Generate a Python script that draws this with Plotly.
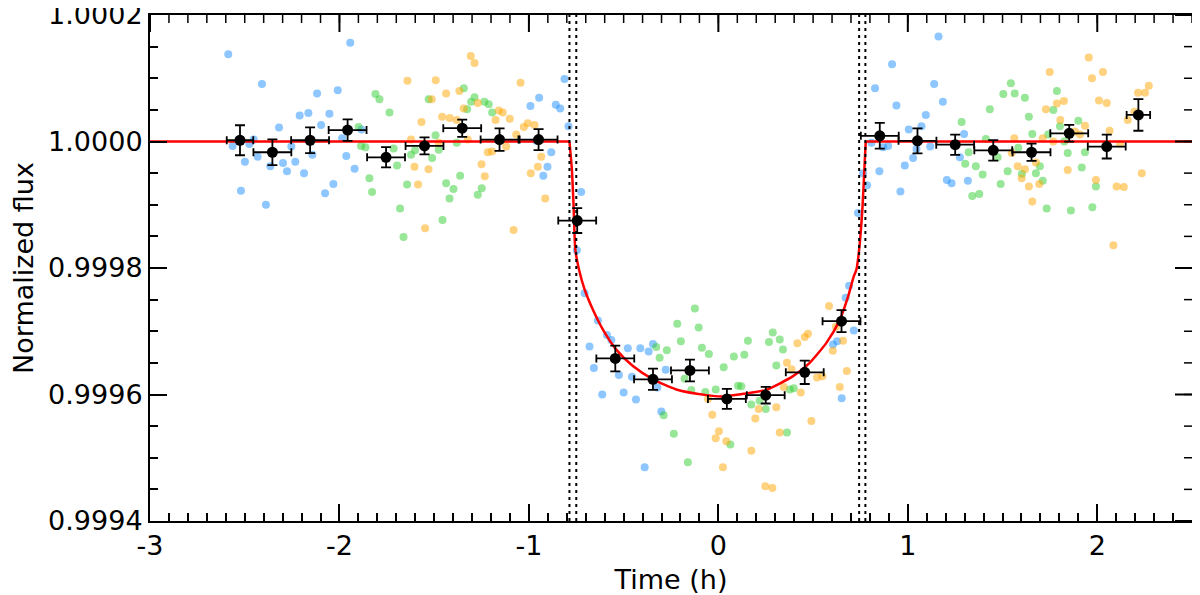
import plotly.graph_objects as go

# --- unbinned photometry, three visits (time in h, normalized flux) ---
blue_t = [-2.587, -1.943, -2.409, -2.118, -2.009, -2.210, -2.164, -2.053, -2.319, -2.097,
          -2.564, -2.476, -2.453, -2.499, -2.432, -2.365, -2.298, -2.277, -2.233, -2.254,
          -2.187, -2.143, -2.520, -2.388, -2.076, -2.032, -1.964, -1.920, -1.986, -1.884,
          -0.812, -0.946, -0.992, -0.858, -0.835, -0.791, -0.882, -0.902, -0.924, -0.961,
          -0.724, -0.747,
          -0.706, -0.636, -0.588, -0.565, -0.680, -0.657, -0.613, -0.525, -0.478, -0.456,
          -0.500, -0.435, -0.412, -0.368, -0.345, -0.278, -0.322, -0.301, -0.389,
          0.690, 0.672, 0.715, 0.627, 0.605, 0.651,
          1.162, 0.917, 0.827, 1.139, 0.940, 1.185, 1.095, 1.072, 1.005, 1.297,
          0.808, 0.870, 0.896, 1.118, 1.046, 1.028, 0.984, 1.275, 0.850, 0.764,
          0.785, 1.206, 1.231, 1.317, 0.961, 0.737]
blue_f = [1.000138, 1.000156, 1.000091, 1.000076, 1.000081, 1.000041, 1.000045, 1.000044, 1.000022, 1.000026,
          0.999993, 0.999996, 1.000003, 0.999968, 0.999976, 0.999961, 0.999966, 0.999953, 0.999968, 0.999992,
          0.999950, 0.999979, 0.999922, 0.999900, 0.999918, 0.999933, 0.999977, 0.999957, 1.000005, 1.000019,
          1.000099, 1.000069, 1.000056, 1.000058, 1.000052, 1.000024, 0.999983, 0.999960, 0.999946, 1.000001,
          0.999920, 0.999828,
          0.999760, 0.999717, 0.999694, 0.999686, 0.999676, 0.999642, 0.999600, 0.999631, 0.999673, 0.999628,
          0.999603, 0.999592, 0.999673, 0.999668, 0.999680, 0.999639, 0.999611, 0.999573, 0.999485,
          0.999772, 0.999753, 0.999701, 0.999684, 0.999679, 0.999594,
          1.000166, 1.000122, 1.000084, 1.000091, 1.000057, 1.000063, 1.000042, 1.000024, 1.000019, 1.000012,
          0.999998, 0.999991, 0.999993, 0.999992, 0.999988, 0.999974, 0.999962, 0.999975, 0.999953, 0.999950,
          0.999931, 0.999939, 0.999934, 0.999938, 0.999921, 0.999887]

green_t = [-1.899, -1.886, -1.863, -1.810, -1.789, -1.736, -1.714, -1.696, -1.754, -1.842,
           -1.828, -1.680, -1.662, -1.643, -1.622, -1.601, -1.511, -1.493, -1.476, -1.529,
           -1.344, -1.305, -1.287, -1.235, -1.212, -1.194, -1.326, -1.381, -1.363, -1.437,
           -1.398, -1.419, -1.270, -1.249, -1.456,
           -0.124, -0.217, -0.104, -0.198, -0.328, -0.272, -0.310, -0.087, -0.050, -0.178,
           -0.143, -0.069, -0.014, -0.289, -0.235, -0.161, 0.028, 0.082, 0.137, 0.156,
           0.267, 0.287, 0.324, 0.341, 0.306, 0.104, 0.121, 0.174, 0.218, 0.250,
           0.377, 0.398, 0.063, 0.362,
           1.284, 1.321, 1.303, 1.359, 1.395, 1.340, 1.377, 1.433, 1.504, 1.544,
           1.564, 1.412, 1.474, 1.527, 1.490, 1.583, 1.618, 1.787, 1.768, 1.639,
           1.657, 1.803, 1.900, 1.741, 1.826, 1.697, 1.676, 1.602, 1.712, 1.844,
           1.935, 1.918, 1.993, 1.733, 1.861, 1.974]
green_f = [1.000023, 0.999993, 0.999991, 1.000075, 1.000067, 1.000046, 0.999989, 0.999962, 0.999976, 0.999942,
           0.999920, 0.999894, 0.999849, 0.999932, 0.999979, 0.999986, 0.999974, 1.000010, 0.999987, 1.000067,
           1.000084, 1.000063, 1.000070, 1.000063, 1.000059, 1.000046, 1.000051, 0.999998, 0.999946, 0.999934,
           0.999925, 0.999910, 0.999916, 0.999926, 0.999876,
           0.999736, 0.999712, 0.999706, 0.999684, 0.999675, 0.999670, 0.999658, 0.999674, 0.999664, 0.999625,
           0.999607, 0.999604, 0.999608, 0.999567, 0.999538, 0.999493, 0.999643, 0.999660, 0.999663, 0.999685,
           0.999683, 0.999698, 0.999687, 0.999671, 0.999646, 0.999614, 0.999613, 0.999584, 0.999590, 0.999577,
           0.999608, 0.999610, 0.999521, 0.999540,
           1.000031, 0.999983, 0.999965, 0.999961, 0.999948, 0.999914, 0.999917, 1.000051, 1.000075, 1.000092,
           1.000076, 1.000004, 0.999975, 0.999953, 0.999933, 0.999990, 1.000069, 1.000080, 1.000050, 1.000039,
           1.000012, 1.000024, 1.000033, 1.000011, 1.000000, 0.999961, 0.999950, 0.999949, 0.999938, 0.999982,
           0.999983, 0.999959, 0.999929, 0.999894, 0.999891, 0.999896]

orange_t = [-1.307, -1.287, -1.641, -1.492, -1.437, -1.367, -1.513, -1.044, -1.344, -1.270,
            -1.159, -1.138, -1.176, -1.101, -1.458, -1.418, -1.381, -1.567, -1.027, -1.006,
            -0.970, -1.067, -1.622, -1.323, -1.217, -1.194, -1.120, -1.476, -1.604, -1.530,
            -1.585, -1.250, -1.233, -0.953, -0.990, -0.935, -0.914, -1.548, -1.081,
            -0.032, 0.003, -0.014, -0.055, 0.584, 0.473, 0.456, 0.417, 0.362, 0.386,
            0.521, 0.549, 0.658, 0.604, 0.678, 0.641, 0.435, 0.345, 0.491, 0.306,
            0.213, 0.195, 0.042, 0.174, 0.324, 0.024, 0.248, 0.285, 0.620,
            1.562, 1.548, 1.580, 1.955, 1.749, 2.030, 1.972, 2.272, 2.252, 2.215,
            1.824, 1.787, 1.729, 2.009, 2.050, 1.805, 1.935, 1.882, 1.909, 2.065,
            2.161, 2.196, 1.768, 1.712, 2.120, 1.676, 1.618, 1.601, 1.694, 1.639,
            1.844, 1.993, 2.102, 2.140, 2.235, 1.657, 2.085]
orange_f = [1.000135, 1.000124, 1.000096, 1.000097, 1.000076, 1.000080, 1.000067, 1.000093, 1.000052, 1.000061,
            1.000049, 1.000046, 1.000034, 1.000036, 1.000039, 1.000037, 1.000034, 1.000031, 1.000023, 1.000029,
            1.000026, 1.000011, 1.000003, 1.000003, 0.999983, 0.999984, 0.999992, 0.999998, 0.999960, 0.999956,
            0.999932, 0.999964, 0.999945, 0.999960, 0.999950, 0.999976, 0.999910, 0.999863, 0.999860,
            0.999568, 0.999542, 0.999531, 0.999593, 0.999740, 0.999696, 0.999691, 0.999681, 0.999650, 0.999640,
            0.999627, 0.999629, 0.999685, 0.999669, 0.999637, 0.999612, 0.999603, 0.999612, 0.999558, 0.999580,
            0.999577, 0.999562, 0.999526, 0.999511, 0.999540, 0.999485, 0.999455, 0.999452, 0.999707,
            1.000005, 0.999982, 0.999961, 1.000133, 1.000110, 1.000110, 1.000100, 1.000088, 1.000077, 1.000077,
            1.000064, 1.000060, 1.000051, 1.000065, 1.000061, 1.000034, 1.000025, 1.000016, 1.000011, 1.000017,
            1.000034, 1.000047, 1.000000, 1.000005, 0.999996, 0.999967, 0.999956, 0.999942, 0.999933, 0.999929,
            0.999955, 0.999939, 0.999929, 0.999928, 0.999950, 0.999905, 0.999836]

# --- binned points ---
bin_t = [-2.525, -2.354, -2.155, -1.957, -1.754, -1.551, -1.352, -1.155, -0.949, -0.745,
         -0.544, -0.345, -0.150, 0.045, 0.250, 0.456, 0.650, 0.852, 1.051, 1.250,
         1.451, 1.653, 1.852, 2.050, 2.217]
bin_f = [1.000002, 0.999983, 1.000002, 1.000018, 0.999975, 0.999993, 1.000021, 1.000003, 1.000003, 0.999875,
         0.999657, 0.999624, 0.999638, 0.999593, 0.999599, 0.999635, 0.999716, 1.000009, 1.000001, 0.999995,
         0.999986, 0.999983, 1.000013, 0.999992, 1.000042]
bin_ferr = [0.0000237, 0.0000205, 0.0000203, 0.0000171, 0.0000160, 0.0000134, 0.0000137, 0.0000179, 0.0000166, 0.0000197,
            0.0000203, 0.0000168, 0.0000171, 0.0000158, 0.0000132, 0.0000184, 0.0000174, 0.0000203, 0.0000197, 0.0000160,
            0.0000163, 0.0000137, 0.0000132, 0.0000189, 0.0000250]
bin_terr = [0.070, 0.1, 0.1, 0.1, 0.1, 0.1, 0.1, 0.1, 0.1, 0.1,
            0.1, 0.1, 0.1, 0.1, 0.1, 0.1, 0.1, 0.1, 0.1, 0.1,
            0.1, 0.1, 0.1, 0.1, 0.062]

# --- transit model ---
model_t = [-0.786, -0.773, -0.764, -0.755, -0.736, -0.706, -0.662, -0.610, -0.539, -0.451,
           -0.345, -0.222, -0.063, 0.020, 0.130, 0.250, 0.394, 0.482, 0.571, 0.641,
           0.685, 0.715, 0.729, 0.743, 0.761, 0.773, 0.778]
model_f = [1.000000, 0.999955, 0.999897, 0.999829, 0.999798, 0.999766, 0.999734, 0.999703, 0.999671, 0.999645,
           0.999624, 0.999608, 0.999599, 0.999597, 0.999601, 0.999607, 0.999629, 0.999650, 0.999682, 0.999718,
           0.999755, 0.999787, 0.999798, 0.999829, 0.999897, 0.999971, 1.000000]
flat_left_t = [-3.0, -0.786]
flat_right_t = [0.778, 2.5]
flat_f = [1.0, 1.0]

# contact times (dotted lines)
contacts = [-0.786, -0.750, 0.743, 0.776]

xticks = [-3, -2, -1, 0, 1, 2]
xtick_text = ['-3', '-2', '-1', '0', '1', '2']
yticks = [0.9994, 0.9996, 0.9998, 1.0000, 1.0002]
ytick_text = ['0.9994', '0.9996', '0.9998', '1.0000', '1.0002']
xrange_ = [-3, 2.5]
yrange_ = [0.99939999, 1.00020001]
# minor tick positions
xminor_vals = [round(-3 + 0.1 * i, 1) for i in range(56)]
yminor_vals = [round(0.9994 + 0.00005 * i, 5) for i in range(17)]

W, H = 1192, 587
M = dict(l=142, r=8, t=7, b=74)
plot_w = W - M['l'] - M['r']
plot_h = H - M['t'] - M['b']
major_len, minor_len = 17, 8

fig = go.Figure()

for t, f, col in [(blue_t, blue_f, 'rgba(30,144,255,0.5)'),
                  (green_t, green_f, 'rgba(50,205,50,0.5)'),
                  (orange_t, orange_f, 'rgba(255,165,0,0.5)')]:
    fig.add_trace(go.Scatter(x=t, y=f, mode='markers',
                             marker=dict(size=8, color=col, line=dict(width=0))))

for c in contacts:
    fig.add_vline(x=c, line=dict(color='black', width=2, dash='3px,4px'))

red = dict(color='red', width=2.5)
fig.add_trace(go.Scatter(x=flat_left_t, y=flat_f, mode='lines', line=red))
fig.add_trace(go.Scatter(x=model_t, y=model_f, mode='lines',
                         line=dict(color='red', width=2.5, shape='spline', smoothing=0.6)))
fig.add_trace(go.Scatter(x=flat_right_t, y=flat_f, mode='lines', line=red))

fig.add_trace(go.Scatter(
    x=bin_t, y=bin_f, mode='markers',
    marker=dict(size=11, color='black'),
    error_x=dict(type='data', array=bin_terr, color='black', thickness=1.8, width=4),
    error_y=dict(type='data', array=bin_ferr, color='black', thickness=1.8, width=5)))

# inward ticks on the top edge (x data vs. a 0-1 overlay y axis)
for vals, ln, w in [(xticks, major_len, 2), (xminor_vals, minor_len, 1.5)]:
    tx, ty = [], []
    for v in vals:
        tx += [v, v, None]
        ty += [1, 1 - ln / plot_h, None]
    fig.add_trace(go.Scatter(x=tx, y=ty, yaxis='y2', mode='lines', cliponaxis=False,
                             line=dict(color='black', width=w), hoverinfo='skip'))
# inward ticks on the right edge (0-1 overlay x axis vs. y data)
for vals, ln, w in [(yticks, major_len, 2), (yminor_vals, minor_len, 1.5)]:
    tx, ty = [], []
    for v in vals:
        tx += [1, 1 - ln / plot_w, None]
        ty += [v, v, None]
    fig.add_trace(go.Scatter(x=tx, y=ty, xaxis='x2', mode='lines', cliponaxis=False,
                             line=dict(color='black', width=w), hoverinfo='skip'))

font = dict(family='DejaVu Sans', size=27, color='black')

# page body adds 8px offset, so the figure is 8px smaller than the window
fig.update_layout(
    width=W, height=H,
    margin=M,
    paper_bgcolor='white', plot_bgcolor='white',
    showlegend=False,
    font=font,
    xaxis=dict(range=xrange_, tickvals=xticks, ticktext=xtick_text, automargin=False,
               showline=True, linecolor='black', linewidth=2, mirror=True,
               ticks='inside', ticklen=major_len, tickwidth=2, tickcolor='black',
               minor=dict(tickvals=xminor_vals, ticks='inside', ticklen=minor_len,
                          tickwidth=1.5, tickcolor='black'),
               showgrid=False, zeroline=False, tickfont=font,
               title=dict(text='Time (h)', font=font, standoff=15)),
    yaxis=dict(range=yrange_, tickvals=yticks, ticktext=ytick_text, automargin=False,
               showline=True, linecolor='black', linewidth=2, mirror=True,
               ticks='inside', ticklen=major_len, tickwidth=2, tickcolor='black',
               minor=dict(tickvals=yminor_vals, ticks='inside', ticklen=minor_len,
                          tickwidth=1.5, tickcolor='black'),
               showgrid=False, zeroline=False, tickfont=font, ticklabeloverflow='allow',
               title=dict(text='Normalized flux', font=font, standoff=26)),
    xaxis2=dict(range=[0, 1], overlaying='x', visible=False, fixedrange=True),
    yaxis2=dict(range=[0, 1], overlaying='y', visible=False, fixedrange=True),
)

fig.write_html('out.html')
